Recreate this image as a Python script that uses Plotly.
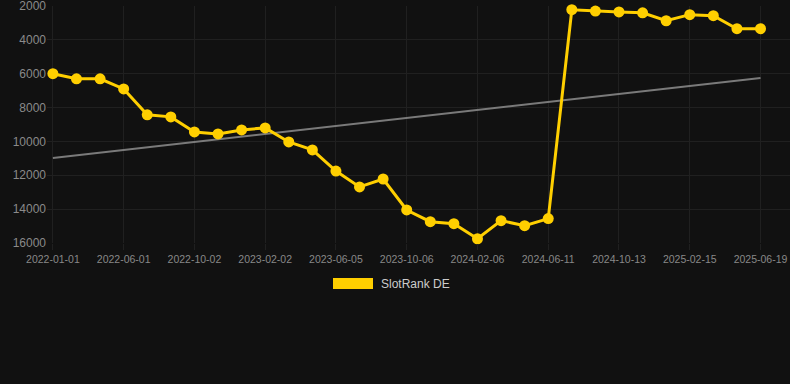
import plotly.graph_objects as go

dates = [
    "2022-01-01", "2022-02-20", "2022-04-11", "2022-06-01", "2022-07-12", "2022-08-22",
    "2022-10-02", "2022-11-12", "2022-12-23", "2023-02-02", "2023-03-15", "2023-04-25",
    "2023-06-05", "2023-07-16", "2023-08-26", "2023-10-06", "2023-11-16", "2023-12-27",
    "2024-02-06", "2024-03-18", "2024-04-30", "2024-06-11", "2024-07-22", "2024-09-02",
    "2024-10-13", "2024-11-23", "2025-01-04", "2025-02-15", "2025-03-28", "2025-05-09",
    "2025-06-19",
]
rank_de = [
    6000, 6300, 6300, 6900, 8430, 8550, 9440, 9560, 9320, 9200, 10030, 10500,
    11750, 12690, 12220, 14050, 14740, 14860, 15750, 14680, 14980, 14560,
    2220, 2300, 2350, 2400, 2870, 2510, 2570, 3340, 3340,
]
trend_x = ["2022-01-01", "2025-06-19"]
trend_y = [10980, 6250]
tick_labels = dates[::3]
y_ticks = [2000, 4000, 6000, 8000, 10000, 12000, 14000, 16000]
series_name = "SlotRank DE"

gold = "#FFCF00"
bg = "#111111"
grid = "#202020"

fig = go.Figure()
fig.add_trace(go.Scatter(
    x=trend_x, y=trend_y, mode="lines",
    line=dict(color="#7a7a7a", width=2), hoverinfo="skip", showlegend=False,
))
fig.add_trace(go.Scatter(
    x=dates, y=rank_de, mode="lines+markers", name=series_name,
    line=dict(color=gold, width=3), marker=dict(color=gold, size=11),
    showlegend=False, cliponaxis=False,
))

fig.update_layout(
    width=790, height=384,
    paper_bgcolor=bg, plot_bgcolor=bg,
    margin=dict(l=47, r=0, t=6, b=141),
    font=dict(family="Liberation Sans, Arial, sans-serif", color="#8a8a8a"),
    xaxis=dict(
        type="category", categoryorder="array", categoryarray=dates,
        range=[-0.25, 31.25],
        tickmode="array", tickvals=tick_labels, ticktext=tick_labels,
        showgrid=True, gridcolor=grid, gridwidth=1,
        ticks="outside", ticklen=6, tickcolor=grid,
        tickfont=dict(size=10.5, color="#888888"),
        zeroline=False, showline=False, ticklabeloverflow="allow",
    ),
    yaxis=dict(
        range=[16000.5, 1999.5], tickmode="array", tickvals=y_ticks,
        ticktext=[str(v) for v in y_ticks],
        showgrid=True, gridcolor=grid, gridwidth=1,
        tickfont=dict(size=12, color="#8a8a8a"),
        zeroline=False, showline=False, ticks="", ticklabeloverflow="allow",
    ),
    shapes=[dict(
        type="rect", xref="paper", yref="paper",
        x0=(333 - 47) / 743, x1=(373 - 47) / 743,
        y0=(243 - 289) / 237, y1=(243 - 278) / 237,
        fillcolor=gold, line=dict(width=0),
    )],
    annotations=[dict(
        text=series_name, xref="paper", yref="paper",
        x=(379 - 47) / 743, y=(243 - 283.5) / 237,
        xanchor="left", yanchor="middle", showarrow=False,
        font=dict(size=12, color="#cccccc"),
    )],
)

fig.write_html(
    "out.html",
    config={"displayModeBar": False},
    post_script="document.body.style.margin='0';document.body.style.background='#111111';",
)
